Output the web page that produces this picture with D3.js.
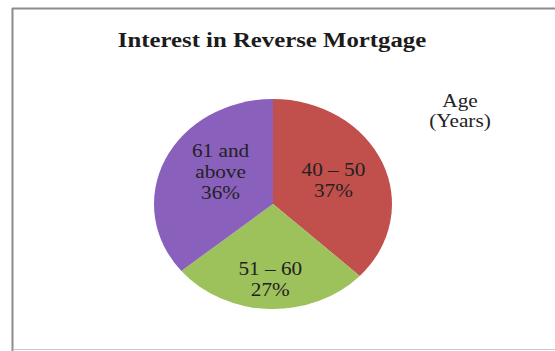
<!DOCTYPE html>
<html>
<head>
<meta charset="utf-8">
<script src="https://cdn.jsdelivr.net/npm/d3@7"></script>
<style>
  body { margin: 0; background: #fff; }
  svg { display: block; }
  text { font-family: "Liberation Serif", "Times New Roman", serif; }
</style>
</head>
<body>
<svg width="555" height="351"></svg>
<script>
const ageGroups = ['40 \u2013 50', '51 \u2013 60', '61 and above']
const labelLines = [['40 \u2013 50'], ['51 \u2013 60'], ['61 and', 'above']]
const shares = [37, 27, 36]
const sliceColors = ['#c14f4b', '#9dc15b', '#8a60bd']

const width = 555, height = 351
const cx = 273, cy = 204, rx = 119, ry = 105
// the original picture is stretched sideways a bit, text included
const stretch = 1.18
// where each label sits, as a share of the radius, plus a small turn
const labelRadius = [0.553, 0.72, 0.536]
const labelTurn = [0, 0, 9.5]

const svg = d3.select('svg')

// outer frame
svg.append('line').attr('x1', 12.5).attr('y1', 8).attr('x2', 12.5).attr('y2', height)
   .attr('stroke', '#8c8c8c').attr('stroke-width', 2)
svg.append('line').attr('x1', 12).attr('y1', 8.5).attr('x2', width).attr('y2', 8.5)
   .attr('stroke', '#8c8c8c').attr('stroke-width', 2)
svg.append('line').attr('x1', 13).attr('y1', 349.5).attr('x2', width).attr('y2', 349.5)
   .attr('stroke', '#c8c8c8').attr('stroke-width', 1)

const stretchedText = (x, y) => svg.append('text')
   .attr('transform', `translate(${x},${y}) scale(${stretch},1)`)
   .attr('text-anchor', 'middle')
   .attr('fill', '#1c1c1c')

stretchedText(272, 47)
   .attr('font-size', 21).attr('font-weight', 'bold')
   .text('Interest in Reverse Mortgage')

const pie = d3.pie().sort(null).value(d => d)
const arcs = pie(shares)
const arc = d3.arc().innerRadius(0).outerRadius(rx)

// pie drawn on a circle, then squashed vertically to the ellipse
const g = svg.append('g')
   .attr('transform', `translate(${cx},${cy}) scale(1,${ry / rx})`)
g.selectAll('.slice')
   .data(arcs)
   .enter()
   .append('path')
   .classed('slice', true)
   .attr('d', arc)
   .attr('fill', (d, i) => sliceColors[i])

arcs.forEach((d, i) => {
  const a = (d.startAngle + d.endAngle) / 2 + labelTurn[i] * Math.PI / 180
  const x = cx + Math.sin(a) * rx * labelRadius[i]
  const y = cy - Math.cos(a) * ry * labelRadius[i]
  const lines = labelLines[i].concat([shares[i] + '%'])
  const t = stretchedText(x, y).attr('font-size', 18).attr('fill', '#222')
  lines.forEach((s, k) => {
    t.append('tspan')
     .attr('x', 0)
     .attr('y', (k - (lines.length - 1) / 2) * 21 + 6)
     .text(s)
  })
})

const legendTitle = stretchedText(460, 107).attr('font-size', 18).attr('fill', '#222')
legendTitle.append('tspan').attr('x', 0).attr('y', 0).text('Age')
legendTitle.append('tspan').attr('x', 0).attr('y', 20).text('(Years)')
</script>
</body>
</html>
